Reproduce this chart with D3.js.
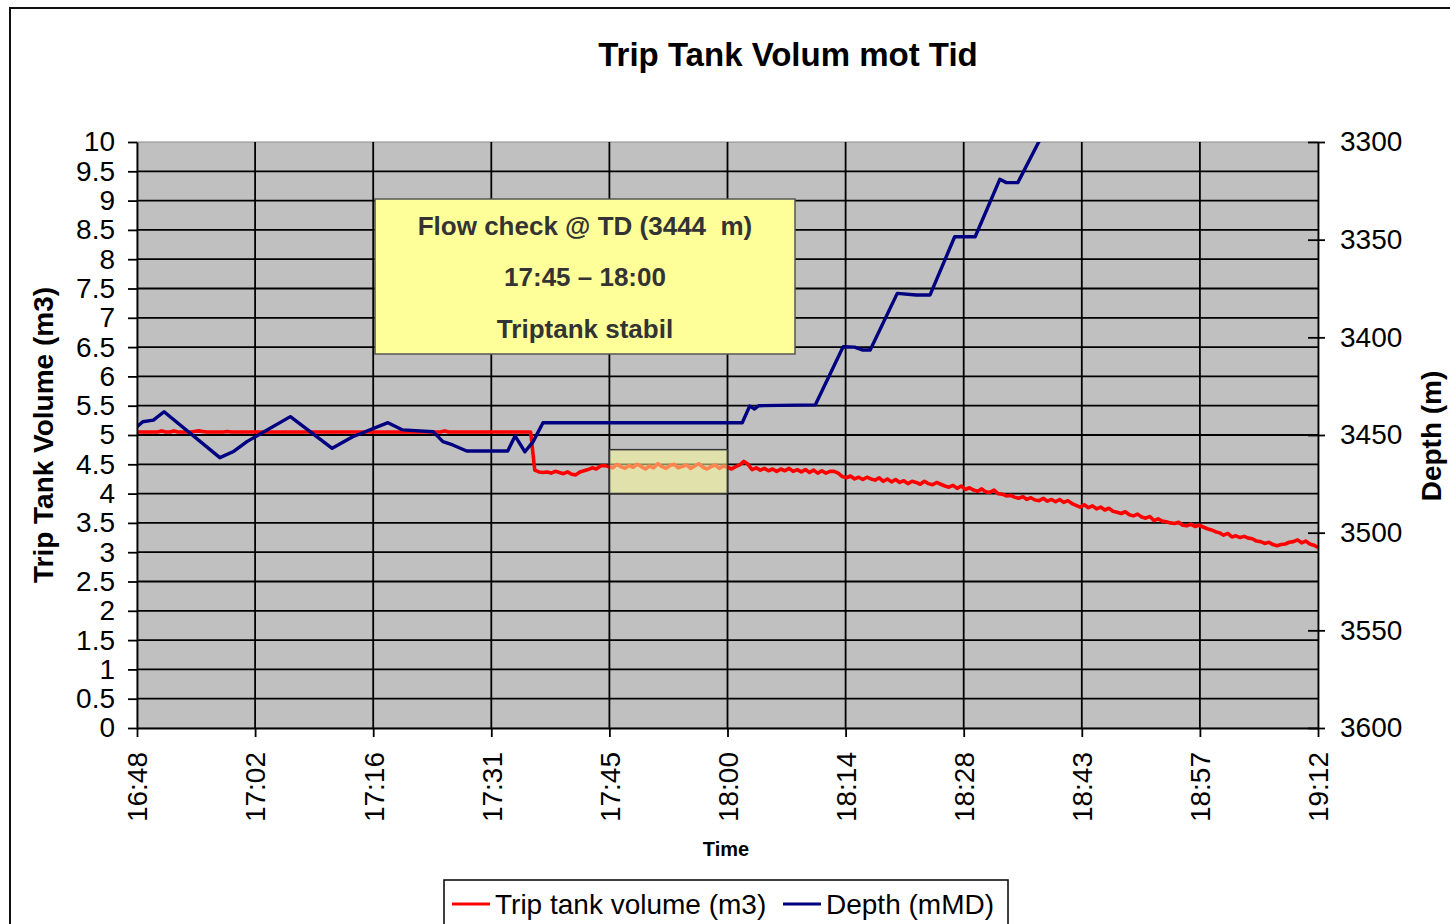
<!DOCTYPE html>
<html>
<head>
<meta charset="utf-8">
<script src="https://cdn.jsdelivr.net/npm/d3@7"></script>
<style>
  html, body { margin: 0; padding: 0; background: #fff; overflow: hidden; }
  svg { display: block; font-family: "Liberation Sans", Arial, sans-serif; }
</style>
</head>
<body>
<svg id="chart" width="1450" height="924"></svg>
<script>
// ---- chart data ----
const chartTitle = "Trip Tank Volum mot Tid";
const timeStart = "16:48";
const timeEnd = "19:12";
const timeTickLabels = ["16:48", "17:02", "17:16", "17:31", "17:45", "18:00",
                        "18:14", "18:28", "18:43", "18:57", "19:12"];
const volumeTicks = [0, 0.5, 1, 1.5, 2, 2.5, 3, 3.5, 4, 4.5, 5, 5.5, 6, 6.5,
                     7, 7.5, 8, 8.5, 9, 9.5, 10];
const depthTicks = [3300, 3350, 3400, 3450, 3500, 3550, 3600];
const seriesNames = ["Trip tank volume (m3)", "Depth (mMD)"];

// trip tank volume (m3), logged every 30 s starting 16:48
const volumeLogIntervalMin = 0.5;
const tripTankVolume = [
  5.05, 5.05, 5.05, 5.05, 5.05, 5.05, 5.07, 5.05, 5.05, 5.07,
  5.05, 5.05, 5.05, 5.05, 5.06, 5.07, 5.06, 5.05, 5.05, 5.05,
  5.05, 5.05, 5.06, 5.05, 5.05, 5.05, 5.05, 5.05, 5.05, 5.05,
  5.05, 5.05, 5.05, 5.05, 5.05, 5.05, 5.05, 5.05, 5.05, 5.05,
  5.05, 5.05, 5.05, 5.05, 5.05, 5.05, 5.05, 5.05, 5.05, 5.05,
  5.05, 5.05, 5.05, 5.05, 5.05, 5.05, 5.05, 5.05, 5.05, 5.05,
  5.05, 5.05, 5.05, 5.05, 5.05, 5.05, 5.05, 5.05, 5.05, 5.05,
  5.05, 5.05, 5.05, 5.05, 5.05, 5.07, 5.05, 5.05, 5.05, 5.05,
  5.05, 5.05, 5.05, 5.05, 5.05, 5.05, 5.05, 5.05, 5.05, 5.05,
  5.05, 5.05, 5.05, 5.05, 5.05, 5.05, 5.05, 4.40, 4.37, 4.36,
  4.37, 4.35, 4.38, 4.36, 4.34, 4.37, 4.33, 4.32, 4.37, 4.39,
  4.41, 4.44, 4.42, 4.47, 4.48, 4.46, 4.44, 4.50, 4.46, 4.43,
  4.48, 4.45, 4.50, 4.46, 4.42, 4.47, 4.44, 4.51, 4.46, 4.43,
  4.48, 4.50, 4.44, 4.46, 4.49, 4.43, 4.47, 4.51, 4.45, 4.42,
  4.46, 4.49, 4.43, 4.47, 4.45, 4.42, 4.46, 4.49, 4.55, 4.50,
  4.41, 4.44, 4.40, 4.43, 4.39, 4.42, 4.38, 4.42, 4.39, 4.43,
  4.38, 4.41, 4.37, 4.41, 4.36, 4.40, 4.35, 4.39, 4.35, 4.38,
  4.38, 4.35, 4.29, 4.27, 4.30, 4.25, 4.28, 4.24, 4.28, 4.25,
  4.23, 4.27, 4.21, 4.25, 4.20, 4.24, 4.19, 4.22, 4.17, 4.21,
  4.19, 4.16, 4.21, 4.17, 4.15, 4.19, 4.16, 4.13, 4.11, 4.14,
  4.09, 4.13, 4.07, 4.10, 4.06, 4.04, 4.08, 4.03, 4.02, 4.06,
  4.00, 3.99, 3.96, 3.97, 3.94, 3.92, 3.95, 3.90, 3.93, 3.89,
  3.88, 3.92, 3.87, 3.90, 3.86, 3.90, 3.85, 3.88, 3.83, 3.80,
  3.77, 3.81, 3.76, 3.79, 3.74, 3.77, 3.72, 3.75, 3.70, 3.68,
  3.66, 3.69, 3.64, 3.62, 3.65, 3.60, 3.58, 3.61, 3.54, 3.57,
  3.53, 3.52, 3.50, 3.49, 3.51, 3.46, 3.45, 3.48, 3.44, 3.46,
  3.43, 3.40, 3.38, 3.35, 3.33, 3.29, 3.32, 3.26, 3.28, 3.25,
  3.27, 3.24, 3.23, 3.19, 3.18, 3.15, 3.17, 3.13, 3.11, 3.13,
  3.14, 3.17, 3.18, 3.21, 3.16, 3.19, 3.14, 3.12, 3.08
];

// bit depth (mMD): minutes after 16:48 and depth
const depthMinutes = [
  0, 0.7, 2.0, 3.3, 10.1, 11.7, 13.4, 18.7, 23.8, 26.3, 30.6, 32.4, 36.1,
  37.3, 38.5, 40.2, 45.2, 46.1, 47.3, 48.3, 49.5, 73.8, 74.7, 75.3, 75.8,
  82.7, 86.1, 87.5, 88.5, 89.4, 92.7, 95.0, 96.7, 99.7, 102.2, 105.2,
  106.0, 107.4, 109.9, 111.0
];
const depthValues = [
  3445.8, 3443.2, 3442.4, 3438.1, 3461.6, 3458.6, 3453.4, 3440.6, 3456.8,
  3450.9, 3443.7, 3447.4, 3448.3, 3453.4, 3455.1, 3458.2, 3458.2, 3450.5,
  3458.6, 3453.4, 3443.7, 3443.7, 3435.2, 3436.7, 3435.0, 3434.6, 3404.8,
  3405.0, 3406.5, 3406.5, 3377.5, 3378.3, 3378.3, 3348.5, 3348.5, 3319.1,
  3320.8, 3320.8, 3300.4, 3292.0
];

// flow check period and the volume band it covers
const flowCheckWindow = ["17:45:36", "18:00:00"];
const flowCheckBand = [4.0, 4.75];
const noteLines = ["Flow check @ TD (3444  m)", "17:45 \u2013 18:00", "Triptank stabil"];

// ---- layout ----
const plot = { left: 137, top: 142, right: 1318, bottom: 728 };
const svg = d3.select("#chart");

const parseClock = d3.timeParse("%H:%M:%S");
const clock = s => parseClock(s.length === 5 ? s + ":00" : s);
const t0 = clock(timeStart), t1 = clock(timeEnd);
const atMinute = m => new Date(+t0 + m * 60000);

const x = d3.scaleTime().domain([t0, t1]).range([plot.left, plot.right]);
const yVol = d3.scaleLinear().domain([0, 10]).range([plot.bottom, plot.top]);
const yDepth = d3.scaleLinear().domain([3600, 3300]).range([plot.bottom, plot.top]);

// major time unit: the span divided evenly between the labelled ticks
const tickDates = timeTickLabels.map((_, i) =>
  new Date(+t0 + i * (+t1 - +t0) / (timeTickLabels.length - 1)));

// outer chart frame
svg.append("rect")
  .attr("x", 10).attr("y", 8).attr("width", 1700).attr("height", 1100)
  .attr("fill", "#fff").attr("stroke", "#111").attr("stroke-width", 2);

// title
svg.append("text")
  .attr("x", 788).attr("y", 66)
  .attr("text-anchor", "middle")
  .attr("font-size", 33).attr("font-weight", "bold")
  .text(chartTitle);

// plot background
svg.append("rect")
  .attr("x", plot.left).attr("y", plot.top)
  .attr("width", plot.right - plot.left).attr("height", plot.bottom - plot.top)
  .attr("fill", "#c0c0c0").attr("stroke", "#8c8c8c").attr("stroke-width", 1);

svg.append("clipPath").attr("id", "plotClip")
  .append("rect")
  .attr("x", plot.left).attr("y", plot.top)
  .attr("width", plot.right - plot.left).attr("height", plot.bottom - plot.top);

// gridlines
const grid = svg.append("g");
grid.selectAll("line.h")
  .data(volumeTicks.filter(v => v > 0 && v < 10))
  .join("line")
  .attr("x1", plot.left).attr("x2", plot.right)
  .attr("y1", d => yVol(d)).attr("y2", d => yVol(d))
  .attr("stroke", "#000").attr("stroke-width", 1.8);
grid.selectAll("line.v")
  .data(tickDates.slice(1, -1))
  .join("line")
  .attr("x1", d => x(d)).attr("x2", d => x(d))
  .attr("y1", plot.top).attr("y2", plot.bottom)
  .attr("stroke", "#000").attr("stroke-width", 1.8);

// series
const series = svg.append("g").attr("clip-path", "url(#plotClip)");

const volLine = d3.line()
  .x((d, i) => x(atMinute(i * volumeLogIntervalMin)))
  .y(d => yVol(d));
series.append("path")
  .datum(tripTankVolume)
  .attr("d", volLine)
  .attr("fill", "none").attr("stroke", "#ff0000")
  .attr("stroke-width", 3.6).attr("stroke-linejoin", "round");

const depthLine = d3.line()
  .x(d => x(atMinute(d[0])))
  .y(d => yDepth(d[1]));
series.append("path")
  .datum(depthMinutes.map((m, i) => [m, depthValues[i]]))
  .attr("d", depthLine)
  .attr("fill", "none").attr("stroke", "#000080")
  .attr("stroke-width", 3.4).attr("stroke-linejoin", "round");

// flow check highlight
svg.append("rect")
  .attr("x", x(clock(flowCheckWindow[0])))
  .attr("y", yVol(flowCheckBand[1]))
  .attr("width", x(clock(flowCheckWindow[1])) - x(clock(flowCheckWindow[0])))
  .attr("height", yVol(flowCheckBand[0]) - yVol(flowCheckBand[1]))
  .attr("fill", "#ffff99").attr("fill-opacity", 0.52)
  .attr("stroke", "#333").attr("stroke-width", 1.5);

// annotation note
const note = svg.append("g");
note.append("rect")
  .attr("x", 375).attr("y", 199).attr("width", 420).attr("height", 155)
  .attr("fill", "#ffff99").attr("stroke", "#555").attr("stroke-width", 1.5);
note.selectAll("text")
  .data(noteLines)
  .join("text")
  .attr("x", 585)
  .attr("y", (d, i) => [235, 286, 338][i])
  .attr("text-anchor", "middle")
  .attr("font-size", 26).attr("font-weight", "bold")
  .attr("fill", "#333")
  .attr("xml:space", "preserve")
  .style("white-space", "pre")
  .text(d => d);

// axes
const axisStyle = g => {
  g.selectAll("path.domain").attr("stroke", "#000").attr("stroke-width", 1.8);
  g.selectAll(".tick line").attr("stroke", "#000").attr("stroke-width", 1.8);
  g.selectAll(".tick text").attr("fill", "#000").attr("font-size", 28)
    .attr("font-family", "'Liberation Sans', Arial, sans-serif");
};

svg.append("g")
  .attr("transform", `translate(${plot.left},0)`)
  .call(d3.axisLeft(yVol).tickValues(volumeTicks).tickFormat(d => String(d))
    .tickSize(9).tickSizeOuter(0).tickPadding(13))
  .call(axisStyle);

const rightAxis = svg.append("g")
  .attr("transform", `translate(${plot.right},0)`)
  .call(d3.axisRight(yDepth).tickValues(depthTicks).tickFormat(d => String(d))
    .tickSize(7).tickSizeOuter(0).tickPadding(15))
  .call(axisStyle);
rightAxis.selectAll(".tick line").attr("x1", -10);

const bottomAxis = svg.append("g")
  .attr("transform", `translate(0,${plot.bottom})`)
  .call(d3.axisBottom(x).tickValues(tickDates).tickFormat((d, i) => timeTickLabels[i])
    .tickSize(9).tickSizeOuter(0))
  .call(axisStyle);
bottomAxis.selectAll(".tick text")
  .attr("transform", "rotate(-90)")
  .attr("x", -24).attr("y", 0).attr("dy", "0.35em")
  .attr("text-anchor", "end");

// axis titles
svg.append("text")
  .attr("transform", "translate(53,435) rotate(-90)")
  .attr("text-anchor", "middle")
  .attr("font-size", 28).attr("font-weight", "bold")
  .text("Trip Tank Volume (m3)");
svg.append("text")
  .attr("transform", "translate(1441,436) rotate(-90)")
  .attr("text-anchor", "middle")
  .attr("font-size", 28).attr("font-weight", "bold")
  .text("Depth (m)");
svg.append("text")
  .attr("x", 726).attr("y", 856)
  .attr("text-anchor", "middle")
  .attr("font-size", 20).attr("font-weight", "bold")
  .text("Time");

// legend
const legend = svg.append("g");
legend.append("rect")
  .attr("x", 444).attr("y", 880).attr("width", 564).attr("height", 80)
  .attr("fill", "#fff").attr("stroke", "#000").attr("stroke-width", 1.5);
const legendItems = [
  { name: seriesNames[0], color: "#ff0000", x: 452 },
  { name: seriesNames[1], color: "#000080", x: 783 }
];
legendItems.forEach(it => {
  legend.append("line")
    .attr("x1", it.x).attr("x2", it.x + 38)
    .attr("y1", 904).attr("y2", 904)
    .attr("stroke", it.color).attr("stroke-width", 3.2);
  legend.append("text")
    .attr("x", it.x + 43).attr("y", 914)
    .attr("font-size", 28)
    .text(it.name);
});
</script>
</body>
</html>
